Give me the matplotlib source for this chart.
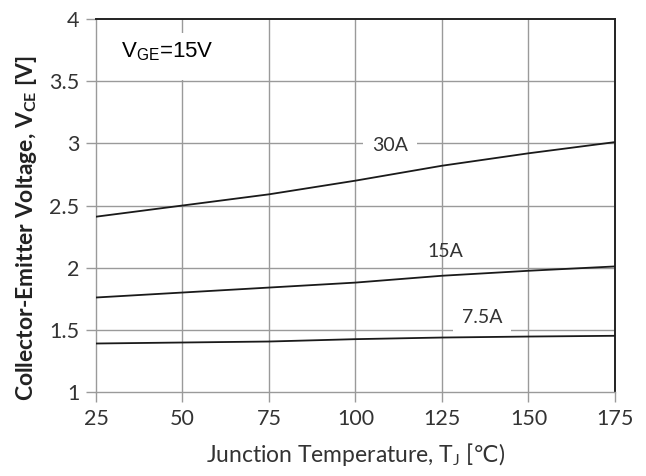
import numpy as np
import matplotlib
matplotlib.use("Agg")
import matplotlib.pyplot as plt
from matplotlib.patches import Rectangle

# junction temperature [degC]
temps = [25, 50, 75, 100, 125, 150, 175]
# collector-emitter voltage [V]
vce_30a = [2.41, 2.50, 2.59, 2.70, 2.82, 2.92, 3.01]
vce_15a = [1.76, 1.80, 1.84, 1.88, 1.935, 1.975, 2.01]
vce_7a5 = [1.39, 1.398, 1.406, 1.425, 1.438, 1.446, 1.452]
curve_labels = ["30A", "15A", "7.5A"]
xticks = [25, 50, 75, 100, 125, 150, 175]
yticks = [1, 1.5, 2, 2.5, 3, 3.5, 4]

plt.rcParams['font.family'] = ['Lato', 'DejaVu Sans']
plt.rcParams['mathtext.fontset'] = 'custom'
plt.rcParams['mathtext.rm'] = 'Lato'
plt.rcParams['mathtext.sf'] = 'DejaVu Sans'  # only used for the degree-C sign

fig = plt.figure(figsize=(6.46, 4.76), dpi=100)
ax = fig.add_axes([0.1486, 0.1765, 0.8034, 0.7835])

grid_c = "#9a9a9a"
for xv in xticks[1:-1]:
    ax.axvline(xv, color=grid_c, lw=1.0, zorder=1)
for yv in yticks[1:-1]:
    ax.axhline(yv, color=grid_c, lw=1.0, zorder=1)

for v in (vce_30a, vce_15a, vce_7a5):
    ax.plot(temps, v, color="#1a1a1a", lw=1.3, zorder=3)

# curve labels, white boxes hide the grid behind them
ax.text(110, 2.985, curve_labels[0], fontsize=14, color="#333333",
        ha="center", va="center", bbox=dict(boxstyle="square,pad=0.45", fc="white", ec="none"), zorder=2)
ax.text(126, 2.13, curve_labels[1], fontsize=14, color="#333333",
        ha="center", va="center", zorder=2)
ax.text(136.5, 1.6, curve_labels[2], fontsize=14, color="#333333",
        ha="center", va="center", bbox=dict(boxstyle="square,pad=0.45", fc="white", ec="none"), zorder=2)

# condition note in a white box
ax.add_patch(Rectangle((31.4, 3.508), 29.5, 0.38, fc="white", ec="none", zorder=2))
ax.text(32.3, 3.695, r"V$_{\mathregular{GE}}$=15V", fontsize=16, family="Liberation Sans",
        ha="left", va="baseline", color="black", zorder=2.5)

ax.set_xlim(25, 175)
ax.set_ylim(1, 4)
ax.set_xticks(xticks)
ax.set_yticks(yticks)
ax.set_yticklabels(["1", "1.5", "2", "2.5", "3", "3.5", "4"])
ax.tick_params(direction="out", length=7, width=1, color=grid_c,
               labelsize=15.5, labelcolor="#333333", pad=5)

for s in ("left", "bottom"):
    ax.spines[s].set_color(grid_c)
    ax.spines[s].set_linewidth(1.0)
for s in ("top", "right"):
    ax.spines[s].set_color("#222222")
    ax.spines[s].set_linewidth(1.4)

ax.set_xlabel("Junction Temperature, T$_\\mathregular{J}$ [$\\mathsf{℃}$)", fontsize=16.5,
              color="#333333", labelpad=9)
ax.set_ylabel(r"Collector-Emitter Voltage, V$_{\mathregular{CE}}$ [V]", fontsize=16.5,
              fontweight="bold", color="#222222")
ax.yaxis.set_label_coords(-0.11, 0.44)

fig.savefig("out.png", dpi=100, facecolor="white")
